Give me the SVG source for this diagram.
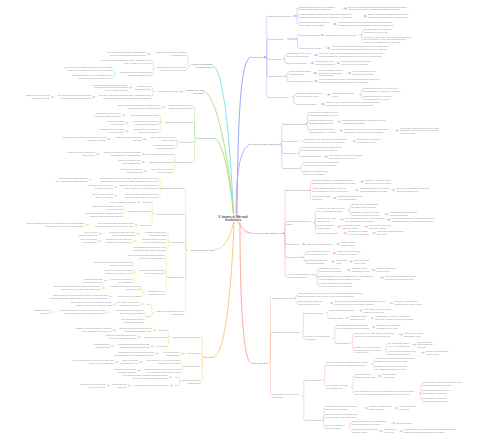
<svg xmlns="http://www.w3.org/2000/svg" width="500" height="440" viewBox="0 0 500 440">
<style>
text{font-family:"Liberation Sans",Arial,sans-serif}
.t{font-size:2.1px;fill:#8a8a8a}
.e{text-anchor:end}
.m{font-size:2.2px;fill:#666}
.c{font-size:3px;fill:#4a4a4a;font-weight:bold;text-anchor:middle}
.cbl{stroke:#8c9ef8;fill:#8c9ef8}
.cpu{stroke:#c49cf2;fill:#c49cf2}
.cpk{stroke:#f28db5;fill:#f28db5}
.crd{stroke:#f7a391;fill:#f7a391}
.ccy{stroke:#6fdfe9;fill:#6fdfe9}
.cgr{stroke:#a9de74;fill:#a9de74}
.cye{stroke:#f8d35e;fill:#f8d35e}
.cor{stroke:#f7c66c;fill:#f7c66c}
path{stroke-width:.4;stroke-linecap:round}
.k{fill:none}
.mc{fill:none;stroke-width:.9}
</style>
<rect width="500" height="440" fill="#fff"/>
<g id="connectors">
<path class="mc cbl" d="M237,214C238,120 240,58 251,57"/>
<path class="mc cpu" d="M236,214C236,172 240,146 251,144"/>
<path class="mc cpk" d="M238,222C242,228 245,233 251,233"/>
<path class="mc crd" d="M240,223C240,300 243,361 251,363"/>
<path class="mc ccy" d="M212.8,66C222,67 229,120 233.5,214"/>
<path class="mc cgr" d="M203.8,91.5C214,92 227,140 233.5,214"/>
<path class="mc cgr" d="M213.8,138C222,139 229,170 233.5,214"/>
<path class="mc cye" d="M213.8,250C224,250 231,236 233.5,222"/>
<path class="mc cor" d="M214,357C224,356 231,300 234,222"/>
<path class="k cbl" d="M264.5,57H265.6Q266.8,57 266.8,55.8V17.2Q266.8,16 268,16H269M264.5,57H265.6Q266.8,57 266.8,55.8V40.2Q266.8,39 268,39H269M264.5,57H265.6Q266.8,57 266.8,58Q266.8,59 268,59H269M264.5,57H265.6Q266.8,57 266.8,58.2V74.8Q266.8,76 268,76H269M264.5,57H265.6Q266.8,57 266.8,58.2V95.8Q266.8,97 268,97H269M293.5,16H295.8Q297,16 297,14.8V9.5Q297,8.3 298.2,8.3H299M293.5,16H299M293.5,16H295.8Q297,16 297,17.2V22.8Q297,24 298.2,24H299M287.5,39H296.3Q297.5,39 297.5,37.8V36.2Q297.5,35 298.7,35H300M287.5,39H296.3Q297.5,39 297.5,40.2V46.8Q297.5,48 298.7,48H300M360,35H360.8Q362,35 362,33.8V31.7Q362,30.5 363,30.5H364M360,35H360.8Q362,35 362,36.2V38.5Q362,39.7 363,39.7H364M283.3,59H283.8Q285,59 285,57.8V56.2Q285,55 286,55H287M283.3,59H283.8Q285,59 285,60.2V61.8Q285,63 286,63H287M285.3,76H285.8Q287,76 287,74.8V74.2Q287,73 288,73H289M285.3,76H285.8Q287,76 287,77.2V79.8Q287,81 288,81H289M292.3,97Q294,97 294,95.7Q294,94.5 295,94.5H296M292.3,97H292.8Q294,97 294,98.2V102.8Q294,104 295,104H296M360,94.5Q361.5,94.5 361.5,93.3V90.7Q361.5,89.5 362.3,89.5H363M360,94.5Q361.5,94.5 361.5,95.7V96.8Q361.5,98 362.3,98H363"/>
<path class="cbl" d="M343,8.3h2.3M346.3,8.3l-1.2-.75v1.5zM363,16h2.3M366.3,16l-1.2-.75v1.5zM333,24h2.3M336.3,24l-1.2-.75v1.5zM320,35h2.3M323.3,35l-1.2-.75v1.5zM326,48h2.3M329.3,48l-1.2-.75v1.5zM314,55h2.3M317.3,55l-1.2-.75v1.5zM310,63h2.3M313.3,63l-1.2-.75v1.5zM336,63h2.3M339.3,63l-1.2-.75v1.5zM313,73h2.3M316.3,73l-1.2-.75v1.5zM347.5,73h2.3M350.8,73l-1.2-.75v1.5zM314,81h2.3M317.3,81l-1.2-.75v1.5zM326.5,94.5h2.3M329.8,94.5l-1.2-.75v1.5zM321,104h2.3M324.3,104l-1.2-.75v1.5z"/>
<path class="k cpu" d="M280,144Q281.8,144 281.8,142.8V125.2Q281.8,124 282.6,124H283.5M280,144Q281.8,144 281.8,142.8V142.2Q281.8,141 282.6,141H283.5M280,144Q281.8,144 281.8,145.2V151.8Q281.8,153 282.6,153H283.5M280,144Q281.8,144 281.8,145.2V166.8Q281.8,168 282.6,168H283.5M305.8,124Q307.5,124 307.5,122.8V114.7Q307.5,113.5 308.3,113.5H309M305.8,124Q307.5,124 307.5,123Q307.5,121.5 308.3,121.5H309M305.8,124Q307.5,124 307.5,125.2V129.3Q307.5,130.5 308.3,130.5H309M300.8,141H304M297.8,153Q299.3,153 299.3,151.8V149.7Q299.3,148.5 300.1,148.5H301M297.8,153Q299.3,153 299.3,154.2V155.3Q299.3,156.5 300.1,156.5H301M299.8,168Q301.3,168 301.3,166.8V165.2Q301.3,164 302.1,164H303M299.8,168Q301.3,168 301.3,169.2V171.3Q301.3,172.5 302.1,172.5H303"/>
<path class="cpu" d="M337,121.5h2.3M340.3,121.5l-1.2-.75v1.5zM339,130.5h2.3M342.3,130.5l-1.2-.75v1.5zM395,130.5h2.3M398.3,130.5l-1.2-.75v1.5zM352,141h2.3M355.3,141l-1.2-.75v1.5zM324,156.5h2.3M327.3,156.5l-1.2-.75v1.5z"/>
<path class="k cpk" d="M283.5,233Q285,233 285,231.8V191.2Q285,190 285.8,190H286.5M283.5,233Q285,233 285,231.8V223.7Q285,222.5 285.8,222.5H286.5M283.5,233Q285,233 285,234.2V242.8Q285,244 285.8,244H286.5M283.5,233Q285,233 285,234.2V255.8Q285,257 285.8,257H286.5M283.5,233Q285,233 285,234.2V274.8Q285,276 285.8,276H286.5M308.8,190Q310.5,190 310.5,188.8V182.7Q310.5,181.5 311.5,181.5H312.5M308.8,190H312.5M308.8,190Q310.5,190 310.5,191.2V196.8Q310.5,198 311.5,198H312.5M313.8,222.5Q315.3,222.5 315.3,221.3V211.2Q315.3,210 316.1,210H317M313.8,222.5Q315.3,222.5 315.3,221.3V220.7Q315.3,219.5 316.1,219.5H317M313.8,222.5Q315.3,222.5 315.3,223.7V225.3Q315.3,226.5 316.1,226.5H317M313.8,222.5Q315.3,222.5 315.3,223.7V231.8Q315.3,233 316.1,233H317M348.3,210Q349.8,210 349.8,208.8V207.2Q349.8,206 350.6,206H351.5M348.3,210Q349.8,210 349.8,211.2V212.8Q349.8,214 350.6,214H351.5M302.8,257Q304.2,257 304.2,255.8V254.2Q304.2,253 305,253H305.8M302.8,257Q304.2,257 304.2,258.2V260.3Q304.2,261.5 305,261.5H305.8M315.8,276Q317.3,276 317.3,274.8V271.2Q317.3,270 318.1,270H319M315.8,276Q317.3,276 317.3,276.7Q317.3,277.5 318.1,277.5H319M315.8,276Q317.3,276 317.3,277.2V283.8Q317.3,285 318.1,285H319"/>
<path class="cpk" d="M360,181.5h2.3M363.3,181.5l-1.2-.75v1.5zM355,190h2.3M358.3,190l-1.2-.75v1.5zM391,190h2.3M394.3,190l-1.2-.75v1.5zM332.5,198h2.3M335.8,198l-1.2-.75v1.5zM384.5,214h2.3M387.8,214l-1.2-.75v1.5zM340,219.5h2.3M343.3,219.5l-1.2-.75v1.5zM386.5,219.5h2.3M389.8,219.5l-1.2-.75v1.5zM337,226.5h2.3M340.3,226.5l-1.2-.75v1.5zM364,226.5h2.3M367.3,226.5l-1.2-.75v1.5zM343,233h2.3M346.3,233l-1.2-.75v1.5zM372,233h2.3M375.3,233l-1.2-.75v1.5zM301.5,244h2.3M304.8,244l-1.2-.75v1.5zM336,244h2.3M339.3,244l-1.2-.75v1.5zM332,253h2.3M335.3,253l-1.2-.75v1.5zM331,261.5h2.3M334.3,261.5l-1.2-.75v1.5zM349,261.5h2.3M352.3,261.5l-1.2-.75v1.5zM346.5,270h2.3M349.8,270l-1.2-.75v1.5zM371.5,270h2.3M374.8,270l-1.2-.75v1.5zM380,277.5h2.3M383.3,277.5l-1.2-.75v1.5z"/>
<path class="k crd" d="M269,363Q270.5,363 270.5,361.8V299.2Q270.5,298 271.2,298H272M269,363Q270.5,363 270.5,361.8V333.2Q270.5,332 271.2,332H272M269,363Q270.5,363 270.5,364.2V394.3Q270.5,395.5 271.2,395.5H272M294.3,298Q296,298 296,296.8V296.2Q296,295 297,295H298M294.3,298Q296,298 296,299.2V301.8Q296,303 297,303H298M302.3,332Q303.5,332 303.5,330.8V314.2Q303.5,313 304.2,313H305M302.3,332Q303.5,332 303.5,333.2V336.8Q303.5,338 304.2,338H305M326.3,313Q327.8,313 327.8,311.8Q327.8,310.5 328.5,310.5H329.3M326.3,313Q327.8,313 327.8,314.2V316.8Q327.8,318 328.5,318H329.3M333.3,338Q334.8,338 334.8,336.8V328.2Q334.8,327 335.5,327H336.3M333.3,338Q334.8,338 334.8,339.2V341.8Q334.8,343 335.5,343H336.3M351.3,343Q352.8,343 352.8,341.8V335.7Q352.8,334.5 353.5,334.5H354.3M351.3,343Q352.8,343 352.8,344.2V348.8Q352.8,350 353.5,350H354.3M384.8,350Q386.3,350 386.3,348.8V345.7Q386.3,344.5 387,344.5H387.8M384.8,350Q386.3,350 386.3,351.2Q386.3,352.5 387,352.5H387.8M302.3,395.5Q303.8,395.5 303.8,394.3V381.2Q303.8,380 304.5,380H305.3M302.3,395.5Q303.8,395.5 303.8,396.7V418.8Q303.8,420 304.5,420H305.3M323.3,380Q324.8,380 324.8,378.8V365.2Q324.8,364 325.5,364H326.3M323.3,380Q324.8,380 324.8,381.2V385.8Q324.8,387 325.5,387H326.3M371.8,364Q373.3,364 373.3,362.8V361.2Q373.3,360 374,360H374.8M371.8,364Q373.3,364 373.3,365.2V366.3Q373.3,367.5 374,367.5H374.8M351.6,387Q353,387 353,385.8V377.2Q353,376 353.7,376H354.5M351.6,387Q353,387 353,388.2V391.8Q353,393 353.7,393H354.5M419.3,393Q420.8,393 420.8,391.8V385.2Q420.8,384 421.5,384H422.3M419.3,393Q420.8,393 420.8,392.5Q420.8,392 421.5,392H422.3M419.3,393Q420.8,393 420.8,394.2V398.3Q420.8,399.5 421.5,399.5H422.3M322.3,420Q323.8,420 323.8,418.8V409.2Q323.8,408 324.5,408H325.3M322.3,420Q323.8,420 323.8,418.8V416.7Q323.8,415.5 324.5,415.5H325.3M322.3,420Q323.8,420 323.8,421.2V425.8Q323.8,427 324.5,427H325.3M348.8,427Q350.3,427 350.3,425.8V424.2Q350.3,423 351,423H351.8M348.8,427Q350.3,427 350.3,428.2V429.8Q350.3,431 351,431H351.8"/>
<path class="crd" d="M329.5,303h2.3M332.8,303l-1.2-.75v1.5zM389.5,303h2.3M392.8,303l-1.2-.75v1.5zM358.5,310.5h2.3M361.8,310.5l-1.2-.75v1.5zM345,318h2.3M348.3,318l-1.2-.75v1.5zM370,318h2.3M373.3,318l-1.2-.75v1.5zM371.5,327h2.3M374.8,327l-1.2-.75v1.5zM399,334.5h2.3M402.3,334.5l-1.2-.75v1.5zM412,344.5h2.3M415.3,344.5l-1.2-.75v1.5zM421,352.5h2.3M424.3,352.5l-1.2-.75v1.5zM377.5,376h2.3M380.8,376l-1.2-.75v1.5zM364.5,408h2.3M367.8,408l-1.2-.75v1.5zM394.5,408h2.3M397.8,408l-1.2-.75v1.5zM391.5,423h2.3M394.8,423l-1.2-.75v1.5zM379,431h2.3M382.3,431l-1.2-.75v1.5zM399,431h2.3M402.3,431l-1.2-.75v1.5z"/>
<path class="k ccy" d="M189.8,66Q188,66 188,64.8V55.2Q188,54 187.2,54H186.3M189.8,66Q188,66 188,67.2V67.8Q188,69 187.2,69H186.3M154.7,69Q153.2,69 153.2,67.8V63.2Q153.2,62 152.4,62H151.7M154.7,69Q153.2,69 153.2,70.2V72.3Q153.2,73.5 152.4,73.5H151.7M115.7,73.5Q114.2,73.5 114.2,72.3V70.2Q114.2,69 113.4,69H112.7M115.7,73.5Q114.2,73.5 114.2,74.7V75.8Q114.2,77 113.4,77H112.7"/>
<path class="ccy" d="M151,54h-2.3M147.7,54l1.2-.75v1.5z"/>
<path class="k cgr" d="M154.2,91.5Q152.7,91.5 152.7,90.3V88.7Q152.7,87.5 151.9,87.5H151.2M154.2,91.5Q152.7,91.5 152.7,92.7V95.8Q152.7,97 151.9,97H151.2M196.3,138Q194.5,138 194.5,136.8V108.2Q194.5,107 193.6,107H192.8M196.3,138Q194.5,138 194.5,136.8V123.2Q194.5,122 193.6,122H192.8M196.3,138Q194.5,138 194.5,139.2V140.8Q194.5,142 193.6,142H192.8M196.3,138Q194.5,138 194.5,139.2V160.8Q194.5,162 193.6,162H192.8M161.7,122Q160.2,122 160.2,120.8V116.2Q160.2,115 159.4,115H158.7M161.7,122Q160.2,122 160.2,122.5Q160.2,123 159.4,123H158.7M161.7,122Q160.2,122 160.2,123.2V129.8Q160.2,131 159.4,131H158.7M178.2,142Q176.7,142 176.7,140.8V140.2Q176.7,139 175.9,139H175.2M178.2,142Q176.7,142 176.7,143.2V145.8Q176.7,147 175.9,147H175.2M176.2,162Q174.7,162 174.7,160.8V155.2Q174.7,154 173.9,154H173.2M176.2,162H173.2M176.2,162Q174.7,162 174.7,163.2V169.8Q174.7,171 173.9,171H173.2"/>
<path class="cgr" d="M183.5,91.5h-2.3M180.2,91.5l1.2-.75v1.5zM132.5,87.5h-2.3M129.2,87.5l1.2-.75v1.5zM96,97h-2.3M92.7,97l1.2-.75v1.5zM54.5,97h-2.3M51.2,97l1.2-.75v1.5zM165.5,107h-2.3M162.2,107l1.2-.75v1.5zM126,115h-2.3M122.7,115l1.2-.75v1.5zM129,123h-2.3M125.7,123l1.2-.75v1.5zM129,131h-2.3M125.7,131l1.2-.75v1.5zM146.5,139h-2.3M143.2,139l1.2-.75v1.5zM111,139h-2.3M107.7,139l1.2-.75v1.5zM145.5,154h-2.3M142.2,154l1.2-.75v1.5zM100,154h-2.3M96.7,154l1.2-.75v1.5zM145.5,162h-2.3M142.2,162l1.2-.75v1.5zM147.5,171h-2.3M144.2,171l1.2-.75v1.5z"/>
<path class="k cye" d="M187.3,250Q185.7,250 185.7,248.8V189.2Q185.7,188 184.9,188H184.2M187.3,250Q185.7,250 185.7,248.8V215.2Q185.7,214 184.9,214H184.2M187.3,250Q185.7,250 185.7,248.8V243.2Q185.7,242 184.9,242H184.2M187.3,250Q185.7,250 185.7,251.2V275.8Q185.7,277 184.9,277H184.2M187.3,250Q185.7,250 185.7,251.2V311.3Q185.7,312.5 184.9,312.5H184.2M161.7,188Q160.2,188 160.2,186.8V180.7Q160.2,179.5 159.4,179.5H158.7M161.7,188Q160.2,188 160.2,187.5Q160.2,187 159.4,187H158.7M161.7,188Q160.2,188 160.2,189.2V194.3Q160.2,195.5 159.4,195.5H158.7M153.7,214Q152.2,214 152.2,212.8V203.2Q152.2,202 151.4,202H150.7M153.7,214Q152.2,214 152.2,212.8V212.2Q152.2,211 151.4,211H150.7M153.7,214Q152.2,214 152.2,215.2V223.8Q152.2,225 151.4,225H150.7M126.2,211Q124.7,211 124.7,209.8V208.7Q124.7,207.5 123.9,207.5H123.2M126.2,211Q124.7,211 124.7,212.2V213.3Q124.7,214.5 123.9,214.5H123.2M169.7,242Q168.2,242 168.2,240.8V234.7Q168.2,233.5 167.4,233.5H166.7M169.7,242Q168.2,242 168.2,241.5Q168.2,241 167.4,241H166.7M169.7,242Q168.2,242 168.2,243.2V247.8Q168.2,249 167.4,249H166.7M167.7,277Q166.2,277 166.2,275.8V257.7Q166.2,256.5 165.4,256.5H164.7M167.7,277Q166.2,277 166.2,275.8V273.2Q166.2,272 165.4,272H164.7M167.7,277Q166.2,277 166.2,278.2V291.8Q166.2,293 165.4,293H164.7M135.7,272Q134.2,272 134.2,270.8V265.2Q134.2,264 133.4,264H132.7M135.7,272H132.7M135.7,272Q134.2,272 134.2,273.2V279.3Q134.2,280.5 133.4,280.5H132.7M144.2,293Q142.7,293 142.7,291.8V289.2Q142.7,288 141.9,288H141.2M144.2,293Q142.7,293 142.7,294.2V295.3Q142.7,296.5 141.9,296.5H141.2M153.2,312.5Q151.7,312.5 151.7,311.3V305.2Q151.7,304 150.9,304H150.2M153.2,312.5Q151.7,312.5 151.7,313.7V314.8Q151.7,316 150.9,316H150.2M146.8,316Q145.3,316 145.3,314.8V313.2Q145.3,312 144.5,312H143.8M146.8,316Q145.3,316 145.3,317.2V319.3Q145.3,320.5 144.5,320.5H143.8"/>
<path class="cye" d="M92.5,179.5h-2.3M89.2,179.5l1.2-.75v1.5zM118,187h-2.3M114.7,187l1.2-.75v1.5zM118,195.5h-2.3M114.7,195.5l1.2-.75v1.5zM140.5,202h-2.3M137.2,202l1.2-.75v1.5zM138.5,225h-2.3M135.2,225l1.2-.75v1.5zM89,225h-2.3M85.7,225l1.2-.75v1.5zM140,233.5h-2.3M136.7,233.5l1.2-.75v1.5zM102.5,233.5h-2.3M99.2,233.5l1.2-.75v1.5zM137,241h-2.3M133.7,241l1.2-.75v1.5zM101.5,241h-2.3M98.2,241l1.2-.75v1.5zM107.5,280.5h-2.3M104.2,280.5l1.2-.75v1.5zM105.5,288h-2.3M102.2,288l1.2-.75v1.5zM112.5,296.5h-2.3M109.2,296.5l1.2-.75v1.5zM145,304h-2.3M141.7,304l1.2-.75v1.5zM117,304h-2.3M113.7,304l1.2-.75v1.5zM110.5,312h-2.3M107.2,312l1.2-.75v1.5zM54.5,312h-2.3M51.2,312l1.2-.75v1.5z"/>
<path class="k cor" d="M204,357Q202.2,357 202.2,355.8V338.2Q202.2,337 201.4,337H200.5M204,357Q202.2,357 202.2,355.8V354.7Q202.2,353.5 201.4,353.5H200.5M204,357Q202.2,357 202.2,358.2V364.8Q202.2,366 201.4,366H200.5M204,357Q202.2,357 202.2,358.2V380.8Q202.2,382 201.4,382H200.5M169.9,337Q168.4,337 168.4,335.8V331.2Q168.4,330 167.6,330H166.9M169.9,337H166.9M169.9,337Q168.4,337 168.4,338.2V344.8Q168.4,346 167.6,346H166.9M183.9,366Q182.4,366 182.4,364.8V363.2Q182.4,362 181.6,362H180.9M183.9,366Q182.4,366 182.4,367.2V369.3Q182.4,370.5 181.6,370.5H180.9M180.9,382Q179.4,382 179.4,380.8V378.2Q179.4,377 178.6,377H177.9M180.9,382Q179.4,382 179.4,383.2V384.3Q179.4,385.5 178.6,385.5H177.9"/>
<path class="cor" d="M156.7,330h-2.3M153.4,330l1.2-.75v1.5zM116.5,330h-2.3M113.2,330l1.2-.75v1.5zM141.5,337h-2.3M138.2,337l1.2-.75v1.5zM154.5,346h-2.3M151.2,346l1.2-.75v1.5zM114.5,346h-2.3M111.2,346l1.2-.75v1.5zM185.2,353.5h-2.3M181.9,353.5l1.2-.75v1.5zM159.2,353.5h-2.3M155.9,353.5l1.2-.75v1.5zM143,362h-2.3M139.7,362l1.2-.75v1.5zM119,362h-2.3M115.7,362l1.2-.75v1.5zM141,370.5h-2.3M137.7,370.5l1.2-.75v1.5zM172.7,377h-2.3M169.4,377l1.2-.75v1.5zM173.7,385.5h-2.3M170.4,385.5l1.2-.75v1.5zM131.5,385.5h-2.3M128.2,385.5l1.2-.75v1.5zM110.5,385.5h-2.3M107.2,385.5l1.2-.75v1.5z"/>
</g>
<g id="center"><text class="c" x="233" y="218">II. Impact of War and<tspan x="233" dy="3.3">revolutions</tspan></text></g>
<g id="crimean"><text class="m" x="252" y="57.8">Crimean War</text></g>
<g id="b1"><text class="t" x="269" y="16.75">Background and Causes</text></g>
<g id="b1a"><text class="t" x="299" y="7.7">Russia sought influence in the Balkans<tspan x="299" dy="2.7">as the Ottoman Empire weakened</tspan></text></g>
<g id="b1a2"><text class="t" x="348" y="7.7">The war exposed Russia's backwardness compared with Britain<tspan x="348" dy="2.7">and France in industry, transport and military technology</tspan></text></g>
<g id="b1b"><text class="t" x="299" y="15.4">In 1853 Nicholas I occupied the Danubian principalities of<tspan x="299" dy="2.7">Moldavia and Wallachia, provoking war with the Ottomans</tspan></text></g>
<g id="b1b2"><text class="t" x="368" y="15.4">Britain, France and Piedmont joined the war<tspan x="368" dy="2.7">to prevent Russian control of the Black Sea</tspan></text></g>
<g id="b1c"><text class="t" x="299" y="23.4">The war ended with the Treaty of<tspan x="299" dy="2.7">Paris in 1856, a humiliation</tspan></text></g>
<g id="b1c2"><text class="t" x="338" y="23.4">Russia's Black Sea fleet was abolished and it lost southern<tspan x="338" dy="2.7">Bessarabia and its influence over the Danubian principalities</tspan></text></g>
<g id="b2"><text class="t" x="269" y="39.75">Political Impact</text></g>
<g id="b2a"><text class="t" x="300" y="35.75">Russian Government</text></g>
<g id="b2a2"><text class="t" x="325" y="35.75">Emancipation of the serfs in 1861</text></g>
<g id="b2a3"><text class="t" x="364" y="29.9">Liberal reforms of Alexander II<tspan x="364" dy="2.7">followed defeat in the war</tspan></text></g>
<g id="b2a4"><text class="t" x="364" y="37.75">Zemstva set up in 1864 gave local self-government<tspan x="364" dy="2.7">to the provinces; a new legal system with trial</tspan><tspan x="364" dy="2.7">by jury was introduced in the same year</tspan></text></g>
<g id="b2b"><text class="t" x="300" y="48.75">Limited political impact</text></g>
<g id="b2b2"><text class="t" x="331" y="47.4">Alexander II remained an autocrat and refused to share power<tspan x="331" dy="2.7">with an elected national assembly; the nobility still dominated</tspan></text></g>
<g id="b3"><text class="t" x="269" y="59.75">Social Impact</text></g>
<g id="b3a"><text class="t" x="287" y="54.4">Emancipation of the serfs<tspan x="287" dy="2.7">in 1861 freed 23 million</tspan></text></g>
<g id="b3a2"><text class="t" x="319" y="54.4">The war revealed Russia to be backward in transport, technology and<tspan x="319" dy="2.7">military organisation; serfdom was seen as the root of this weakness</tspan></text></g>
<g id="b3b"><text class="t" x="287" y="63.75">Limited Social Impact</text></g>
<g id="b3b2"><text class="t" x="315" y="62.4">Peasants had to pay<tspan x="315" dy="2.7">redemption payments</tspan></text></g>
<g id="b3b3"><text class="t" x="341" y="62.4">Created discontent as peasants<tspan x="341" dy="2.7">often received the worst land</tspan></text></g>
<g id="b4"><text class="t" x="269" y="76.75">Economic Impact</text></g>
<g id="b4a"><text class="t" x="289" y="72.4">War stimulated Russian<tspan x="289" dy="2.7">economic reform</tspan></text></g>
<g id="b4a2"><text class="t" x="318" y="71.05">Including Russian reforms<tspan x="318" dy="2.7">of legislation to encourage</tspan><tspan x="318" dy="2.7">industrial growth</tspan></text></g>
<g id="b4a3"><text class="t" x="352.5" y="72.4">Led to the construction of<tspan x="352.5" dy="2.7">railways across Russia</tspan></text></g>
<g id="b4b"><text class="t" x="289" y="81.75">Limited Economic Impact</text></g>
<g id="b4b2"><text class="t" x="319" y="80.4">The war prompted economic development but progress was slow<tspan x="319" dy="2.7">and the state remained the main source of investment</tspan></text></g>
<g id="b5"><text class="t" x="269" y="97.75">Impact on the Military</text></g>
<g id="b5a"><text class="t" x="296" y="93.9">Made up of conscripted serfs<tspan x="296" dy="2.7">who served for 25 years</tspan></text></g>
<g id="b5a2"><text class="t" x="331.5" y="93.9">Miliutin's military reforms<tspan x="331.5" dy="2.7">of 1874</tspan></text></g>
<g id="b5a3"><text class="t" x="363" y="88.9">Reduced conscription to 6 years in the<tspan x="363" dy="2.7">army followed by 9 years in the reserves</tspan></text></g>
<g id="b5a4"><text class="t" x="363" y="97.4">Military schools were created to<tspan x="363" dy="2.7">train officers more effectively</tspan></text></g>
<g id="b5b"><text class="t" x="296" y="104.75">Limited Military Impact</text></g>
<g id="b5b2"><text class="t" x="326" y="103.4">While the army was more modern, its performance against<tspan x="326" dy="2.7">the Ottomans in 1877-78 showed it remained weak</tspan></text></g>
<g id="turkish"><text class="m" x="252" y="144.8">1877-78 Russo-Turkish War</text></g>
<g id="p1"><text class="t" x="283.5" y="124.75">Background and Causes</text></g>
<g id="p1a"><text class="t" x="309" y="112.9">Pan-Slavism: Russia wanted to<tspan x="309" dy="2.7">support Slavs against the Turks</tspan></text></g>
<g id="p1b"><text class="t" x="309" y="120.9">Ottoman repression of the<tspan x="309" dy="2.7">Bulgarian uprising in 1876</tspan></text></g>
<g id="p1b2"><text class="t" x="342" y="120.9">Russia lacked strong allies and feared Austrian<tspan x="342" dy="2.7">expansion in the Balkans</tspan></text></g>
<g id="p1c"><text class="t" x="309" y="129.9">Russia declared war on the<tspan x="309" dy="2.7">Ottoman Empire in April 1877</tspan></text></g>
<g id="p1c2"><text class="t" x="344" y="129.9">Despite early setbacks at Plevna, Russian forces<tspan x="344" dy="2.7">advanced to within reach of Constantinople</tspan></text></g>
<g id="p1c3"><text class="t" x="400" y="128.55">The Treaty of San Stefano created a large<tspan x="400" dy="2.7">Bulgaria but was revised at the Congress</tspan><tspan x="400" dy="2.7">of Berlin in 1878</tspan></text></g>
<g id="p2"><text class="t" x="283.5" y="141.75">Political Impact</text></g>
<g id="p2a"><text class="t" x="304" y="140.4">Humiliation at the Congress of Berlin damaged<tspan x="304" dy="2.7">the prestige of the Tsar and his government</tspan></text></g>
<g id="p2a2"><text class="t" x="357" y="140.4">Encouraged the growth of<tspan x="357" dy="2.7">revolutionary groups</tspan></text></g>
<g id="p3"><text class="t" x="283.5" y="153.75">Social Impact</text></g>
<g id="p3a"><text class="t" x="301" y="147.9">Heavy casualties caused resentment among<tspan x="301" dy="2.7">conscripted peasants and their families</tspan></text></g>
<g id="p3b"><text class="t" x="301" y="157.25">Limited Social Impact</text></g>
<g id="p3b2"><text class="t" x="329" y="155.9">Little change to the lives of peasants<tspan x="329" dy="2.7">who remained tied to the mir</tspan></text></g>
<g id="p4"><text class="t" x="283.5" y="168.75">Economic Impact</text></g>
<g id="p4a"><text class="t" x="303" y="163.4">The war cost over 1 billion roubles and<tspan x="303" dy="2.7">left the government with large debts</tspan></text></g>
<g id="p4b"><text class="t" x="303" y="171.9">Rising taxes placed further<tspan x="303" dy="2.7">strain on the peasantry</tspan></text></g>
<g id="japanese"><text class="m" x="252" y="233.8">1904-1905 Russo-Japanese War</text></g>
<g id="k1"><text class="t" x="286.5" y="190.75">Background and Causes</text></g>
<g id="k1a"><text class="t" x="312.5" y="180.9">Russian expansion in Manchuria and Korea<tspan x="312.5" dy="2.7">clashed with Japanese ambitions in the region</tspan></text></g>
<g id="k1a2"><text class="t" x="365" y="180.9">Nicholas II expected a quick<tspan x="365" dy="2.7">and easy victory over Japan</tspan></text></g>
<g id="k1b"><text class="t" x="312.5" y="189.4">Japan launched a surprise attack on<tspan x="312.5" dy="2.7">the Russian fleet at Port Arthur in 1904</tspan></text></g>
<g id="k1b2"><text class="t" x="360" y="189.4">Russia was defeated at Mukden<tspan x="360" dy="2.7">and at Tsushima in May 1905</tspan></text></g>
<g id="k1b3"><text class="t" x="396" y="189.4">The Treaty of Portsmouth ended the<tspan x="396" dy="2.7">war in September 1905</tspan></text></g>
<g id="k1c"><text class="t" x="312.5" y="197.4">Defeat was a major<tspan x="312.5" dy="2.7">humiliation</tspan></text></g>
<g id="k1c2"><text class="t" x="337.5" y="197.4">Exposed the incompetence<tspan x="337.5" dy="2.7">of the Tsarist regime</tspan></text></g>
<g id="k2"><text class="t" x="286.5" y="221.9">Political and governmental<tspan x="286.5" dy="2.7">impact</tspan></text></g>
<g id="k2a"><text class="t" x="317" y="209.4">Mutinies in the army and navy,<tspan x="317" dy="2.7">e.g. the battleship Potemkin</tspan></text></g>
<g id="k2a1"><text class="t" x="351.5" y="205.4">General strike spread across<tspan x="351.5" dy="2.7">the major cities in October</tspan></text></g>
<g id="k2a2"><text class="t" x="351.5" y="213.4">Nicholas II was forced to issue<tspan x="351.5" dy="2.7">the October Manifesto in 1905</tspan></text></g>
<g id="k2a3"><text class="t" x="389.5" y="213.4">Promised civil liberties and an<tspan x="389.5" dy="2.7">elected State Duma</tspan></text></g>
<g id="k2b"><text class="t" x="317" y="218.9">Creation of the State<tspan x="317" dy="2.7">Duma in 1906</tspan></text></g>
<g id="k2b2"><text class="t" x="345" y="218.9">The Fundamental Laws of 1906 reasserted<tspan x="345" dy="2.7">the autocratic power of the Tsar</tspan></text></g>
<g id="k2b3"><text class="t" x="391.5" y="218.9">The first two Dumas were dissolved when they<tspan x="391.5" dy="2.7">demanded reforms the Tsar would not accept</tspan></text></g>
<g id="k2c"><text class="t" x="317" y="225.9">Stolypin appointed<tspan x="317" dy="2.7">Prime Minister</tspan></text></g>
<g id="k2c2"><text class="t" x="342" y="225.9">Repression through<tspan x="342" dy="2.7">'Stolypin's necktie'</tspan></text></g>
<g id="k2c3"><text class="t" x="369" y="225.9">Over 3,000 executed by<tspan x="369" dy="2.7">field courts martial</tspan></text></g>
<g id="k2d"><text class="t" x="317" y="233.75">Limited political impact</text></g>
<g id="k2d2"><text class="t" x="348" y="232.4">The Tsar kept control<tspan x="348" dy="2.7">of the army and police</tspan></text></g>
<g id="k2d3"><text class="t" x="377" y="232.4">Opposition remained divided<tspan x="377" dy="2.7">after 1905</tspan></text></g>
<g id="k3"><text class="t" x="286.5" y="244.75">Social Impact</text></g>
<g id="k3a"><text class="t" x="306.5" y="244.75">Sparked the 1905 revolution</text></g>
<g id="k3b"><text class="t" x="341" y="243.4">Bloody Sunday<tspan x="341" dy="2.7">January 1905</tspan></text></g>
<g id="k4"><text class="t" x="286.5" y="257.75">Economic Impact</text></g>
<g id="k4a"><text class="t" x="305.8" y="252.4">War expenditure caused a<tspan x="305.8" dy="2.7">rise in government debt</tspan></text></g>
<g id="k4a2"><text class="t" x="337" y="252.4">Loans raised from France<tspan x="337" dy="2.7">to stabilise the rouble</tspan></text></g>
<g id="k4b"><text class="t" x="305.8" y="260.9">Disruption to trade and<tspan x="305.8" dy="2.7">industrial production</tspan></text></g>
<g id="k4b2"><text class="t" x="336" y="260.9">Strikes and<tspan x="336" dy="2.7">unrest</tspan></text></g>
<g id="k4b3"><text class="t" x="354" y="260.9">Witte negotiated<tspan x="354" dy="2.7">peace terms</tspan></text></g>
<g id="k5"><text class="t" x="286.5" y="275.4">After the Russo-Japanese War<tspan x="286.5" dy="2.7">was Russia stronger?</tspan></text></g>
<g id="k5a"><text class="t" x="319" y="269.4">Stolypin's land reforms<tspan x="319" dy="2.7">created a class of kulaks</tspan></text></g>
<g id="k5a2"><text class="t" x="351.5" y="269.4">Economic growth<tspan x="351.5" dy="2.7">resumed after 1906</tspan></text></g>
<g id="k5a3"><text class="t" x="376.5" y="269.4">Industrial output rose<tspan x="376.5" dy="2.7">by 8% a year</tspan></text></g>
<g id="k5b"><text class="t" x="319" y="276.9">Russia signed the Anglo-Russian Entente in 1907 drawing it<tspan x="319" dy="2.7">closer to Britain and France against Germany</tspan></text></g>
<g id="k5b2"><text class="t" x="385" y="276.9">This alliance system drew Russia<tspan x="385" dy="2.7">into the First World War in 1914</tspan></text></g>
<g id="k5c"><text class="t" x="319" y="284.4">Military reforms were introduced but<tspan x="319" dy="2.7">the army remained poorly equipped</tspan></text></g>
<g id="ww1"><text class="m" x="252" y="363.8">First World War</text></g>
<g id="r1"><text class="t" x="272" y="298.75">Background and Causes</text></g>
<g id="r1a"><text class="t" x="298" y="294.4">Russia entered the war in August 1914 to support Serbia and its allies<tspan x="298" dy="2.7">Britain and France, and to protect its interests in the Balkans</tspan></text></g>
<g id="r1b"><text class="t" x="298" y="302.4">Initial patriotism united the<tspan x="298" dy="2.7">country behind the Tsar</tspan></text></g>
<g id="r1b2"><text class="t" x="334.5" y="302.4">Defeats at Tannenberg and the Masurian Lakes in 1914<tspan x="334.5" dy="2.7">caused huge losses of men and equipment</tspan></text></g>
<g id="r1b3"><text class="t" x="394.5" y="302.4">Nicholas II took personal<tspan x="394.5" dy="2.7">command of the army in 1915</tspan></text></g>
<g id="r2"><text class="t" x="272" y="332.75">Impact of the First World War</text></g>
<g id="r2a"><text class="t" x="305" y="313.75">Mobilisation for war</text></g>
<g id="r2a1"><text class="t" x="329.3" y="311.25">Most significant impact was</text></g>
<g id="r2a1b"><text class="t" x="363.5" y="309.9">Heavy losses of over 2 million<tspan x="363.5" dy="2.7">soldiers by early 1917</tspan></text></g>
<g id="r2a2"><text class="t" x="329.3" y="318.75">Limited impact</text></g>
<g id="r2a2b"><text class="t" x="350" y="317.4">Shortages of food<tspan x="350" dy="2.7">and fuel in cities</tspan></text></g>
<g id="r2a2c"><text class="t" x="375" y="317.4">Inflation made it difficult for workers to<tspan x="375" dy="2.7">buy bread, leading to strikes in Petrograd</tspan></text></g>
<g id="r2b"><text class="t" x="305" y="337.4">Collapse of the Provisional<tspan x="305" dy="2.7">Government</tspan></text></g>
<g id="r2b1"><text class="t" x="336.3" y="326.4">Tsar abdicated in March 1917 and<tspan x="336.3" dy="2.7">the Provisional Government formed</tspan></text></g>
<g id="r2b1b"><text class="t" x="376.5" y="326.4">Continued the war against<tspan x="376.5" dy="2.7">Germany in June 1917</tspan></text></g>
<g id="r2b2"><text class="t" x="336.3" y="343.75">Limited impact</text></g>
<g id="r2b2a"><text class="t" x="354.3" y="333.9">The failure of the June offensive weakened<tspan x="354.3" dy="2.7">support for the Provisional Government</tspan></text></g>
<g id="r2b2a2"><text class="t" x="404" y="333.9">Led to the July Days<tspan x="404" dy="2.7">and Kornilov affair</tspan></text></g>
<g id="r2b2b"><text class="t" x="354.3" y="348.05">Weakness of the provisional<tspan x="354.3" dy="2.7">government was that it failed</tspan><tspan x="354.3" dy="2.7">to end the war</tspan></text></g>
<g id="r2b2c"><text class="t" x="387.8" y="343.9">The Bolsheviks offered<tspan x="387.8" dy="2.7">Peace, Land and Bread</tspan></text></g>
<g id="r2b2c2"><text class="t" x="417" y="342.55">This was popular<tspan x="417" dy="2.7">with soldiers and</tspan><tspan x="417" dy="2.7">peasants</tspan></text></g>
<g id="r2b2d"><text class="t" x="387.8" y="351.9">As well as the strengths of the<tspan x="387.8" dy="2.7">Bolsheviks under Lenin</tspan></text></g>
<g id="r2b2d2"><text class="t" x="426" y="351.9">October Revolution 25th<tspan x="426" dy="2.7">October 1917</tspan></text></g>
<g id="r3"><text class="t" x="272" y="394.9">How significant was the First<tspan x="272" dy="2.7">World War?</tspan></text></g>
<g id="r3a"><text class="t" x="305.3" y="380.75">Short term impact</text></g>
<g id="r3a1"><text class="t" x="326.3" y="363.4">The war destroyed the Tsarist regime and led<tspan x="326.3" dy="2.7">to the revolutions of February and October</tspan></text></g>
<g id="r3a1a"><text class="t" x="374.8" y="359.4">Army mutinies and desertions destroyed the<tspan x="374.8" dy="2.7">authority of the Tsar over the military</tspan></text></g>
<g id="r3a1b"><text class="t" x="374.8" y="366.9">Nicholas II was blamed for defeats<tspan x="374.8" dy="2.7">after taking command of the army</tspan></text></g>
<g id="r3a2"><text class="t" x="326.3" y="386.4">War resulted in the rise<tspan x="326.3" dy="2.7">of the Bolsheviks</tspan></text></g>
<g id="r3a2a"><text class="t" x="354.5" y="375.4">Lenin promised to<tspan x="354.5" dy="2.7">withdraw from the war</tspan></text></g>
<g id="r3a2a2"><text class="t" x="382.5" y="375.4">Treaty of Brest-<tspan x="382.5" dy="2.7">Litovsk 1918</tspan></text></g>
<g id="r3a2b"><text class="t" x="354.5" y="392.4">Civil war broke out between the Reds and the Whites and foreign<tspan x="354.5" dy="2.7">intervention followed the Bolshevik seizure of power in 1917</tspan></text></g>
<g id="r3a2b1"><text class="t" x="422.3" y="383.4">The economy collapsed as industrial output<tspan x="422.3" dy="2.7">fell and hyperinflation took hold</tspan></text></g>
<g id="r3a2b2"><text class="t" x="422.3" y="391.4">Food shortages and famine in<tspan x="422.3" dy="2.7">the countryside from 1918</tspan></text></g>
<g id="r3a2b3"><text class="t" x="422.3" y="398.9">The Bolsheviks introduced<tspan x="422.3" dy="2.7">War Communism to survive</tspan></text></g>
<g id="r3b"><text class="t" x="305.3" y="420.75">Long term impact</text></g>
<g id="r3b1"><text class="t" x="325.3" y="407.4">Russia lost a third of its population<tspan x="325.3" dy="2.7">and much of its industry</tspan></text></g>
<g id="r3b1a"><text class="t" x="369.5" y="407.4">Poland, Finland and the<tspan x="369.5" dy="2.7">Baltic states lost</tspan></text></g>
<g id="r3b1b"><text class="t" x="399.5" y="407.4">Territory regained<tspan x="399.5" dy="2.7">after 1945</tspan></text></g>
<g id="r3b2"><text class="t" x="325.3" y="414.9">Created a culture of militarism and<tspan x="325.3" dy="2.7">siege mentality in the Soviet state</tspan></text></g>
<g id="r3b3"><text class="t" x="325.3" y="426.4">Led to the creation of<tspan x="325.3" dy="2.7">the Soviet Union</tspan></text></g>
<g id="r3b3a"><text class="t" x="351.8" y="422.4">Bolshevik one-party state established<tspan x="351.8" dy="2.7">with the Cheka as secret police</tspan></text></g>
<g id="r3b3a2"><text class="t" x="396.5" y="423.75">Red Terror 1918</text></g>
<g id="r3b3b"><text class="t" x="351.8" y="430.4">Communist ideology spread<tspan x="351.8" dy="2.7">across the world</tspan></text></g>
<g id="r3b3b2"><text class="t" x="384" y="430.4">Comintern set<tspan x="384" dy="2.7">up in 1919</tspan></text></g>
<g id="r3b3b3"><text class="t" x="404" y="430.4">Western powers feared the spread of communism which<tspan x="404" dy="2.7">shaped relations with the USSR for decades</tspan></text></g>
<g id="revs1917"><text class="m e" x="212.5" y="65.4">February and October<tspan x="212.5" dy="2.8">Revolutions 1917</tspan></text></g>
<g id="c1"><text class="t e" x="186" y="53.4">Collapse of the Tsarist autocracy<tspan x="186" dy="2.7">in February 1917</tspan></text></g>
<g id="c1b"><text class="t e" x="146" y="53.4">The Provisional Government shared power<tspan x="146" dy="2.7">with the Petrograd Soviet (Dual Power)</tspan></text></g>
<g id="c2"><text class="t e" x="186" y="68.4">The Bolsheviks seized power in<tspan x="186" dy="2.7">the October Revolution 1917</tspan></text></g>
<g id="c2a"><text class="t e" x="151.4" y="61.4">Lenin's April Theses promised 'Peace, Bread and Land'<tspan x="151.4" dy="2.7">and 'All Power to the Soviets'</tspan></text></g>
<g id="c2b"><text class="t e" x="151.4" y="72.9">Distinction between the Bolsheviks<tspan x="151.4" dy="2.7">and other socialist parties</tspan></text></g>
<g id="c2b1"><text class="t e" x="112.4" y="68.4">The Constituent Assembly was dissolved in January<tspan x="112.4" dy="2.7">1918 after the Bolsheviks failed to win a majority</tspan></text></g>
<g id="c2b2"><text class="t e" x="112.4" y="76.4">The Cheka was set up in December 1917 to<tspan x="112.4" dy="2.7">eliminate opposition to Bolshevik rule</tspan></text></g>
<g id="civilwar"><text class="m e" x="203.5" y="90.9">Russian Civil War<tspan x="203.5" dy="2.8">1918-1921</tspan></text></g>
<g id="ga"><text class="t e" x="178.5" y="92.25">Impact of the Civil War</text></g>
<g id="ga1"><text class="t e" x="150.9" y="86.9">Embedded the<tspan x="150.9" dy="2.7">Bolshevik regime</tspan></text></g>
<g id="ga1b"><text class="t e" x="127.5" y="85.55">War Communism introduced with grain<tspan x="127.5" dy="2.7">requisitioning and the nationalisation</tspan><tspan x="127.5" dy="2.7">of all large-scale industry</tspan></text></g>
<g id="ga2"><text class="t e" x="150.9" y="96.4">The Red Army under Trotsky became a disciplined force<tspan x="150.9" dy="2.7">using former Tsarist officers watched by commissars</tspan></text></g>
<g id="ga2b"><text class="t e" x="91" y="96.4">The Whites were divided and lacked<tspan x="91" dy="2.7">popular support among peasants</tspan></text></g>
<g id="ga2c"><text class="t e" x="49.5" y="96.4">Bolshevik victory secured<tspan x="49.5" dy="2.7">their power by 1921</tspan></text></g>
<g id="rev1905"><text class="m e" x="213.5" y="138.8">1905 Revolution</text></g>
<g id="gb1"><text class="t e" x="192.5" y="106.4">Causes included defeat by<tspan x="192.5" dy="2.7">Japan and Bloody Sunday</tspan></text></g>
<g id="gb1b"><text class="t e" x="160.5" y="106.4">Strikes, peasant uprisings and mutinies spread<tspan x="160.5" dy="2.7">across the Empire throughout 1905</tspan></text></g>
<g id="gb2"><text class="t e" x="192.5" y="122.75">Political/Governmental Impact</text></g>
<g id="gb2a"><text class="t e" x="158.4" y="115.75">Consolidation of Tsarist power</text></g>
<g id="gb2a2"><text class="t e" x="121" y="114.4">Fundamental Laws of 1906<tspan x="121" dy="2.7">restated the Tsar's autocracy</tspan></text></g>
<g id="gb2b"><text class="t e" x="158.4" y="122.4">The October Manifesto split<tspan x="158.4" dy="2.7">the opposition movement</tspan></text></g>
<g id="gb2b2"><text class="t e" x="124" y="122.4">Liberals accepted<tspan x="124" dy="2.7">the new Duma</tspan></text></g>
<g id="gb2c"><text class="t e" x="158.4" y="130.4">Stolypin used repression to<tspan x="158.4" dy="2.7">restore order by 1907</tspan></text></g>
<g id="gb2c2"><text class="t e" x="124" y="130.4">Thousands were executed<tspan x="124" dy="2.7">or sent into exile</tspan></text></g>
<g id="gb3"><text class="t e" x="192.5" y="142.75">Social Impact</text></g>
<g id="gb3a"><text class="t e" x="174.9" y="138.4">Many of the workers' gains<tspan x="174.9" dy="2.7">were reversed</tspan></text></g>
<g id="gb3a2"><text class="t e" x="141.5" y="138.4">Trade unions were restricted<tspan x="141.5" dy="2.7">after 1907</tspan></text></g>
<g id="gb3a3"><text class="t e" x="106" y="138.4">Industrial unrest returned in 1912 after the Lena<tspan x="106" dy="2.7">Goldfields massacre</tspan></text></g>
<g id="gb3b"><text class="t e" x="174.9" y="146.4">No lasting improvement<tspan x="174.9" dy="2.7">in working conditions</tspan></text></g>
<g id="gb4"><text class="t e" x="192.5" y="162.75">Economic Impact</text></g>
<g id="gb4a"><text class="t e" x="172.9" y="154.75">Redemption payments ended</text></g>
<g id="gb4a2"><text class="t e" x="140.5" y="153.4">Stolypin's reforms encouraged peasants<tspan x="140.5" dy="2.7">to consolidate their land holdings</tspan></text></g>
<g id="gb4a3"><text class="t e" x="95" y="153.4">Created a class of prosperous<tspan x="95" dy="2.7">kulak farmers</tspan></text></g>
<g id="gb4b"><text class="t e" x="172.9" y="162.75">Industrial growth resumed</text></g>
<g id="gb4b2"><text class="t e" x="140.5" y="161.4">Foreign investment from<tspan x="140.5" dy="2.7">France and Belgium</tspan></text></g>
<g id="gb4c"><text class="t e" x="172.9" y="170.4">Over 3 million peasants<tspan x="172.9" dy="2.7">moved to Siberia</tspan></text></g>
<g id="gb4c2"><text class="t e" x="142.5" y="170.4">Resettlement opened up<tspan x="142.5" dy="2.7">new farming land</tspan></text></g>
<g id="gpw"><text class="m e" x="213.5" y="250.8">The Great Patriotic War</text></g>
<g id="y1"><text class="t e" x="183.9" y="188.75">Background and Causes</text></g>
<g id="y1a"><text class="t e" x="158.4" y="178.9">The Nazi-Soviet Pact of 1939 gave Stalin time to prepare but he<tspan x="158.4" dy="2.7">ignored warnings of a German attack which came in June 1941</tspan></text></g>
<g id="y1a2"><text class="t e" x="87.5" y="178.9">Operation Barbarossa, 22 June<tspan x="87.5" dy="2.7">1941, saw rapid German advances</tspan></text></g>
<g id="y1b"><text class="t e" x="158.4" y="186.4">The Red Army had been weakened by the<tspan x="158.4" dy="2.7">purges of the officer corps in 1937-38</tspan></text></g>
<g id="y1b2"><text class="t e" x="113" y="186.4">Leningrad was besieged for<tspan x="113" dy="2.7">900 days from 1941</tspan></text></g>
<g id="y1c"><text class="t e" x="158.4" y="194.9">Soviet victories at Stalingrad in 1943<tspan x="158.4" dy="2.7">and Kursk turned the tide of the war</tspan></text></g>
<g id="y1c2"><text class="t e" x="113" y="194.9">The Red Army reached<tspan x="113" dy="2.7">Berlin in April 1945</tspan></text></g>
<g id="y2"><text class="t e" x="183.9" y="214.75">Political/Governmental Impact</text></g>
<g id="y2a"><text class="t e" x="150.4" y="202.75">Ideology</text></g>
<g id="y2a2"><text class="t e" x="135.5" y="202.75">Appeal to Russian patriotism</text></g>
<g id="y2b"><text class="t e" x="150.4" y="211.75">Structure of Government</text></g>
<g id="y2b1"><text class="t e" x="122.9" y="206.9">State Defence Committee (GKO)<tspan x="122.9" dy="2.7">ran the war effort</tspan></text></g>
<g id="y2b2"><text class="t e" x="122.9" y="213.9">Stalin was Supreme Commander and his<tspan x="122.9" dy="2.7">personal authority was strengthened</tspan></text></g>
<g id="y2c"><text class="t e" x="150.4" y="225.75">Repression</text></g>
<g id="y2c2"><text class="t e" x="133.5" y="224.4">NKVD blocking units shot soldiers who<tspan x="133.5" dy="2.7">retreated: Order No. 227 'Not a step back'</tspan></text></g>
<g id="y2c3"><text class="t e" x="84" y="224.4">Whole nationalities such as the Chechens and Volga Germans<tspan x="84" dy="2.7">were deported to Central Asia and Siberia</tspan></text></g>
<g id="y3"><text class="t e" x="183.9" y="242.75">Social Impact</text></g>
<g id="y3a"><text class="t e" x="166.4" y="232.9">Around 27 million Soviet<tspan x="166.4" dy="2.7">citizens were killed</tspan></text></g>
<g id="y3a2"><text class="t e" x="135" y="232.9">1.1 million people died in the<tspan x="135" dy="2.7">siege of Leningrad alone</tspan></text></g>
<g id="y3a3"><text class="t e" x="97.5" y="232.9">Severe labour<tspan x="97.5" dy="2.7">shortages after 1945</tspan></text></g>
<g id="y3b"><text class="t e" x="166.4" y="240.4">Women made up over half<tspan x="166.4" dy="2.7">of the industrial workforce</tspan></text></g>
<g id="y3b2"><text class="t e" x="132" y="240.4">Restrictions on the Orthodox<tspan x="132" dy="2.7">Church were relaxed in 1943</tspan></text></g>
<g id="y3b3"><text class="t e" x="96.5" y="240.4">Sense of national<tspan x="96.5" dy="2.7">unity and pride</tspan></text></g>
<g id="y3c"><text class="t e" x="166.4" y="248.4">Propaganda stressed defence of the<tspan x="166.4" dy="2.7">Motherland rather than Communism</tspan></text></g>
<g id="y4"><text class="t e" x="183.9" y="277.75">Economic Impact</text></g>
<g id="y4a"><text class="t e" x="164.4" y="255.9">Much of western Russia was devastated<tspan x="164.4" dy="2.7">with 1,700 towns destroyed</tspan></text></g>
<g id="y4b"><text class="t e" x="164.4" y="271.4">Industry was relocated east<tspan x="164.4" dy="2.7">of the Ural mountains</tspan></text></g>
<g id="y4b1"><text class="t e" x="132.4" y="263.4">Over 1,500 factories were dismantled and<tspan x="132.4" dy="2.7">moved by rail to the east</tspan></text></g>
<g id="y4b2"><text class="t e" x="132.4" y="271.4">Production of tanks and aircraft<tspan x="132.4" dy="2.7">outstripped Germany by 1943</tspan></text></g>
<g id="y4b3"><text class="t e" x="132.4" y="279.9">Lend-Lease aid from the<tspan x="132.4" dy="2.7">USA and Britain</tspan></text></g>
<g id="y4b4"><text class="t e" x="102.5" y="279.9">Supplied trucks and<tspan x="102.5" dy="2.7">food to the Red Army</tspan></text></g>
<g id="y4c"><text class="t e" x="164.4" y="292.4">Mobilisation of the<tspan x="164.4" dy="2.7">economy for war</tspan></text></g>
<g id="y4c1"><text class="t e" x="140.9" y="287.4">Gosplan controlled all production<tspan x="140.9" dy="2.7">for the war effort</tspan></text></g>
<g id="y4c1b"><text class="t e" x="100.5" y="287.4">Consumer goods production collapsed and workers<tspan x="100.5" dy="2.7">endured long hours under strict labour laws</tspan></text></g>
<g id="y4c2"><text class="t e" x="140.9" y="297.25">Agriculture suffered badly</text></g>
<g id="y4c2b"><text class="t e" x="107.5" y="295.9">Grain output fell to less than half pre-war levels as land was<tspan x="107.5" dy="2.7">occupied and horses, tractors and men were taken for the army</tspan></text></g>
<g id="y5"><text class="t e" x="183.9" y="311.9">Was the Great Patriotic War a<tspan x="183.9" dy="2.7">turning point?</tspan></text></g>
<g id="y5yes"><text class="t e" x="149.9" y="304.75">Yes</text></g>
<g id="y5a"><text class="t e" x="140" y="303.4">The USSR emerged as a<tspan x="140" dy="2.7">superpower after 1945</tspan></text></g>
<g id="y5a2"><text class="t e" x="112" y="303.4">Soviet control extended over Eastern Europe<tspan x="112" dy="2.7">creating a buffer zone of satellite states</tspan></text></g>
<g id="y5no"><text class="t e" x="149.9" y="316.75">No</text></g>
<g id="y5b"><text class="t e" x="143.5" y="311.4">Stalin's dictatorship continued<tspan x="143.5" dy="2.7">and repression intensified</tspan></text></g>
<g id="y5b2"><text class="t e" x="105.5" y="311.4">Returning prisoners of war were sent to the Gulag<tspan x="105.5" dy="2.7">and the Leningrad Affair purged party leaders</tspan></text></g>
<g id="y5b3"><text class="t e" x="49.5" y="311.4">Zhdanovshchina<tspan x="49.5" dy="2.7">from 1946</tspan></text></g>
<g id="y5c"><text class="t e" x="143.5" y="319.9">The command economy<tspan x="143.5" dy="2.7">remained unchanged</tspan></text></g>
<g id="coldwar"><text class="m e" x="213.5" y="357.8">Cold War</text></g>
<g id="o1"><text class="t e" x="200.2" y="337.75">Political/Governmental Impact</text></g>
<g id="o1a"><text class="t e" x="166.6" y="330.75">Ideology</text></g>
<g id="o1a2"><text class="t e" x="151.7" y="329.4">Marxism-Leninism was the basis of<tspan x="151.7" dy="2.7">rivalry with the capitalist West</tspan></text></g>
<g id="o1a3"><text class="t e" x="111.5" y="329.4">Zhdanov promoted hostility to Western<tspan x="111.5" dy="2.7">culture and influences after 1946</tspan></text></g>
<g id="o1b"><text class="t e" x="166.6" y="337.75">Structure of government</text></g>
<g id="o1b2"><text class="t e" x="136.5" y="336.4">Stalin ruled through a small inner<tspan x="136.5" dy="2.7">circle; the Politburo rarely met</tspan></text></g>
<g id="o1c"><text class="t e" x="166.6" y="346.75">Repression</text></g>
<g id="o1c2"><text class="t e" x="149.5" y="345.4">Show trials in Eastern Europe and<tspan x="149.5" dy="2.7">purges such as the Doctors' Plot</tspan></text></g>
<g id="o1c3"><text class="t e" x="109.5" y="345.4">Gulag population<tspan x="109.5" dy="2.7">peaked in 1950</tspan></text></g>
<g id="o2"><text class="t e" x="200.2" y="354.25">Social Impact</text></g>
<g id="o2a"><text class="t e" x="180.2" y="352.9">Led to a decline in<tspan x="180.2" dy="2.7">living standards</tspan></text></g>
<g id="o2b"><text class="t e" x="154.2" y="352.9">Spending on arms limited housing and<tspan x="154.2" dy="2.7">consumer goods for ordinary Soviet citizens</tspan></text></g>
<g id="o3"><text class="t e" x="200.2" y="366.75">Economic Impact</text></g>
<g id="o3a"><text class="t e" x="180.6" y="361.4">The Fourth Five-Year Plan from 1946<tspan x="180.6" dy="2.7">prioritised heavy industry</tspan></text></g>
<g id="o3a2"><text class="t e" x="138" y="361.4">Nuclear weapons<tspan x="138" dy="2.7">developed by 1949</tspan></text></g>
<g id="o3a3"><text class="t e" x="114" y="361.4">Huge resources were spent on the arms race<tspan x="114" dy="2.7">and later on the space race</tspan></text></g>
<g id="o3b"><text class="t e" x="180.6" y="369.9">Comecon was set up in 1949 to control<tspan x="180.6" dy="2.7">the economies of the satellite states</tspan></text></g>
<g id="o3b2"><text class="t e" x="136" y="369.9">Reparations were taken<tspan x="136" dy="2.7">from East Germany</tspan></text></g>
<g id="o4"><text class="t e" x="200.2" y="381.4">Was the Cold War a<tspan x="200.2" dy="2.7">turning point?</tspan></text></g>
<g id="o4yes"><text class="t e" x="177.6" y="377.75">Yes</text></g>
<g id="o4a"><text class="t e" x="167.7" y="376.4">The USSR became a global superpower rivalling<tspan x="167.7" dy="2.7">the USA for influence around the world</tspan></text></g>
<g id="o4no"><text class="t e" x="177.6" y="386.25">No</text></g>
<g id="o4b"><text class="t e" x="168.7" y="386.25">Limited change to Soviet government</text></g>
<g id="o4b2"><text class="t e" x="126.5" y="384.9">Communist rule<tspan x="126.5" dy="2.7">continued</tspan></text></g>
<g id="o4b3"><text class="t e" x="105.5" y="384.9">The Party kept its monopoly<tspan x="105.5" dy="2.7">of power until 1991</tspan></text></g>
</svg>
